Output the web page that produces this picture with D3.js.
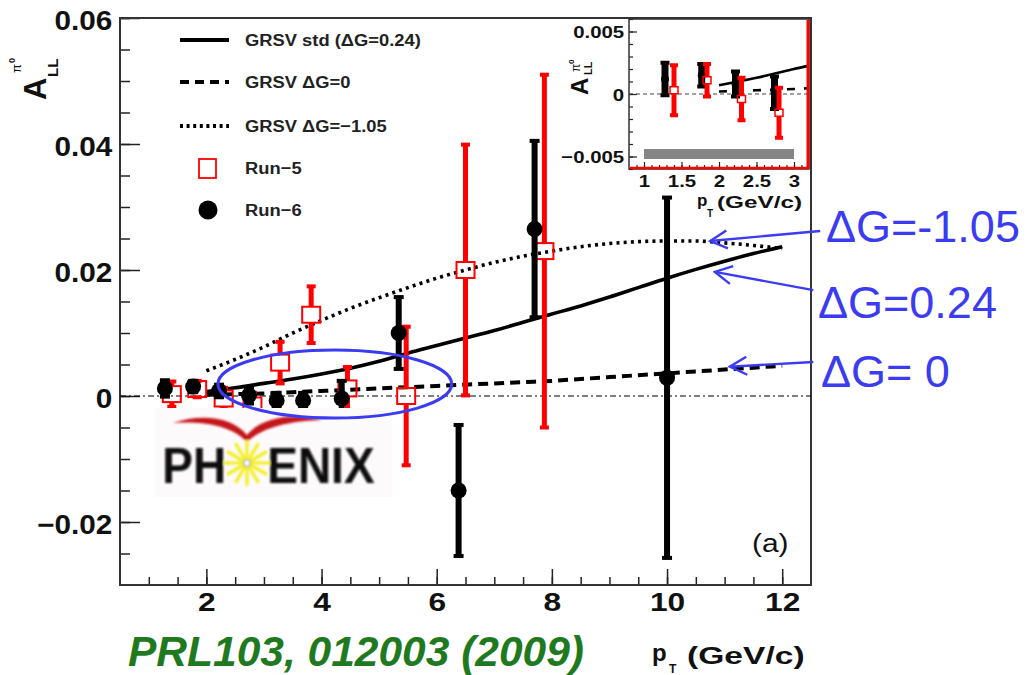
<!DOCTYPE html>
<html>
<head>
<meta charset="utf-8">
<script src="https://cdn.jsdelivr.net/npm/d3@7"></script>
<style>
  body { margin: 0; background: #fff; }
  svg { display: block; }
</style>
</head>
<body>
<svg id="chart" width="1034" height="675"></svg>
<script>
// ---------------- data ----------------
// GRSV theory curves, A_LL vs pT
const curvePt   = [2, 2.5, 3, 3.5, 4, 4.5, 5, 5.5, 6, 6.5, 7, 7.5, 8, 8.5, 9, 9.5, 10, 10.5, 11, 11.5, 12];
const grsvStd   = [0.0007, 0.0013, 0.0020, 0.0027, 0.0035, 0.0044, 0.0055, 0.0068, 0.0080, 0.0092, 0.0104, 0.0117, 0.0130, 0.0143, 0.0157, 0.0172, 0.0187, 0.0201, 0.0214, 0.0226, 0.0237];
const grsvZero  = [0.0002, 0.0003, 0.0004, 0.0006, 0.0008, 0.0010, 0.0012, 0.0014, 0.0016, 0.0018, 0.0020, 0.0022, 0.0024, 0.0027, 0.0030, 0.0033, 0.0036, 0.0039, 0.0042, 0.0045, 0.0048];
const grsvNeg   = [0.0040, 0.0058, 0.0078, 0.0100, 0.0120, 0.0139, 0.0156, 0.0172, 0.0187, 0.0200, 0.0212, 0.0222, 0.0230, 0.0237, 0.0242, 0.0245, 0.0246, 0.0246, 0.0243, 0.0239, 0.0234];

// Run-5 measurement
const run5Pt   = [1.40, 1.84, 2.30, 2.80, 3.28, 3.82, 4.45, 5.47, 6.50, 7.87];
const run5Asym = [0.0003, 0.0011, -0.0004, -0.0015, 0.0053, 0.0129, 0.0012, 0.0000, 0.0200, 0.0230];
const run5Err  = [0.0020, 0.0013, 0.0017, 0.0020, 0.0033, 0.0045, 0.0034, 0.0110, 0.0199, 0.0280];

// Run-6 measurement
const run6Pt   = [1.28, 1.77, 2.22, 2.74, 3.22, 3.68, 4.35, 5.34, 6.38, 7.70, 10.0];
const run6Asym = [0.0012, 0.0015, 0.0008, 0.0001, -0.0007, -0.0007, -0.0004, 0.0100, -0.0150, 0.0265, 0.0029];
const run6Err  = [0.0013, 0.0009, 0.0010, 0.0013, 0.0012, 0.0012, 0.0028, 0.0057, 0.0104, 0.0140, 0.0286];

// systematic band shown in the low-pT panel
const sysBandPt   = [1.0, 3.0];
const sysBandAsym = [-0.0052, -0.0044];

// axis ticks
const mainXTicks  = [2, 4, 6, 8, 10, 12];
const mainYTicks  = [-0.02, 0, 0.02, 0.04, 0.06];
const insetXTicks = [1, 1.5, 2, 2.5, 3];
const insetYTicks = [-0.005, 0, 0.005];

// legend and annotation text
const legendLabels = ["GRSV std (\u0394G=0.24)", "GRSV \u0394G=0", "GRSV \u0394G=\u22121.05", "Run\u22125", "Run\u22126"];
const noteLabels   = ["\u0394G=-1.05", "\u0394G=0.24", "\u0394G= 0"];
const noteTips     = [[10.75, 0.0246], [10.83, 0.0197], [11.09, 0.00465]];
const noteTails    = [[12.66, 0.0262], [12.54, 0.0168], [12.54, 0.0054]];

// ---------------- drawing ----------------
const FONT = "'Liberation Sans', Arial, Helvetica, sans-serif";
const svg = d3.select("#chart");
svg.append("rect").attr("width", 1034).attr("height", 675).attr("fill", "#fff");

const x = d3.scaleLinear().domain([0.5, 12.5]).range([120, 811]);
const y = d3.scaleLinear().domain([-0.03, 0.06]).range([585, 18]);

const main = svg.append("g");

function styleTicks(g, width) {
  g.select(".domain").remove();
  g.selectAll(".tick line").attr("stroke", "#222").attr("stroke-width", width);
}

// x axis: minor then major ticks
main.append("g").attr("transform", "translate(0,585)")
  .call(d3.axisBottom(x).tickValues(d3.range(1, 12.4, 0.5)).tickSize(-8).tickFormat(""))
  .call(g => styleTicks(g, 1.5));
main.append("g").attr("transform", "translate(0,585)")
  .call(d3.axisBottom(x).tickValues(mainXTicks).tickSize(-16).tickPadding(8).tickFormat(d3.format("d")))
  .call(g => {
    styleTicks(g, 1.5);
    g.selectAll("text").attr("font-family", FONT).attr("font-size", 26).attr("font-weight", "bold")
      .attr("fill", "#111").attr("transform", "scale(1.22,1)");
  });

// y axis: minor then major ticks
main.append("g").attr("transform", "translate(120,0)")
  .call(d3.axisLeft(y).tickValues(d3.range(-0.025, 0.0601, 0.005)).tickSize(-10).tickFormat(""))
  .call(g => styleTicks(g, 1.5));
main.append("g").attr("transform", "translate(120,0)")
  .call(d3.axisLeft(y).tickValues(mainYTicks).tickSize(-20).tickPadding(7)
    .tickFormat(d => d === 0 ? "0" : d3.format(".2f")(d)))
  .call(g => {
    styleTicks(g, 1.5);
    g.selectAll("text").attr("font-family", FONT).attr("font-size", 27).attr("font-weight", "bold")
      .attr("fill", "#111").attr("dy", "0.42em").attr("transform", "scale(1.1,1)");
  });

// frame
main.append("rect").attr("x", x(0.5)).attr("y", y(0.06))
  .attr("width", x(12.5) - x(0.5)).attr("height", y(-0.03) - y(0.06))
  .attr("fill", "none").attr("stroke", "#333").attr("stroke-width", 2);

// zero reference line
main.append("line").attr("x1", x(0.5)).attr("x2", x(12.5)).attr("y1", y(0)).attr("y2", y(0))
  .attr("stroke", "#000").attr("stroke-width", 1.2).attr("stroke-dasharray", "6 3 2 3");

// ---- PHENIX logo ----
const logo = svg.append("g").attr("transform", "translate(155,408)");
const blur = svg.append("defs").append("filter").attr("id", "soft");
blur.append("feGaussianBlur").attr("stdDeviation", 0.8);
logo.append("rect").attr("width", 237).attr("height", 89).attr("fill", "#fdfafb");
const lg = logo.append("g").attr("filter", "url(#soft)");
lg.append("path")
  .attr("d", "M18,15 C45,6 76,8 92,27 C108,8 140,5 167,12 C140,13 110,17 92,34 C76,17 46,13 18,15 Z")
  .attr("fill", "#c4141a");
lg.append("text").attr("x", 8).attr("y", 75).attr("font-family", FONT).attr("font-weight", "bold")
  .attr("font-size", 50).attr("fill", "#0a0a0a").attr("transform", "scale(0.92,1)").text("PH");
lg.append("text").attr("x", 122).attr("y", 75).attr("font-family", FONT).attr("font-weight", "bold")
  .attr("font-size", 50).attr("fill", "#0a0a0a").attr("transform", "scale(0.92,1)").text("ENIX");
const star = lg.append("g").attr("transform", "translate(92,55)");
d3.range(12).forEach(i => {
  const a = i * Math.PI / 6;
  star.append("line").attr("x1", 4 * Math.cos(a)).attr("y1", 4 * Math.sin(a))
    .attr("x2", 23 * Math.cos(a)).attr("y2", 23 * Math.sin(a))
    .attr("stroke", "#f3ef22").attr("stroke-width", 3.2);
});
star.append("circle").attr("r", 3.5).attr("fill", "none").attr("stroke", "#999").attr("stroke-width", 1.2);

// ---- theory curves ----
const line = d3.line().x(d => x(d[0])).y(d => y(d[1])).curve(d3.curveMonotoneX);
const curveStyles = [
  { vals: grsvStd,  dash: null,    w: 3.6 },
  { vals: grsvZero, dash: "10 6",  w: 4 },
  { vals: grsvNeg,  dash: "3 4.2", w: 3.6 }
];
curveStyles.forEach(c => {
  main.append("path").datum(curvePt.map((p, i) => [p, c.vals[i]]))
    .attr("d", line).attr("fill", "none").attr("stroke", "#000")
    .attr("stroke-width", c.w).attr("stroke-dasharray", c.dash);
});

// ---- data points ----
function drawRun5(g, xs, ys, pts, vals, errs, o) {
  pts.forEach((p, i) => {
    const px = xs(p), py = ys(vals[i]);
    const top = ys(vals[i] + errs[i]), bot = ys(vals[i] - errs[i]);
    const hh = o.sq / 2;
    if (py - hh > top) g.append("line").attr("x1", px).attr("x2", px).attr("y1", top).attr("y2", py - hh)
      .attr("stroke", "#ff0000").attr("stroke-width", o.bw);
    if (bot > py + hh) g.append("line").attr("x1", px).attr("x2", px).attr("y1", py + hh).attr("y2", bot)
      .attr("stroke", "#ff0000").attr("stroke-width", o.bw);
    [top, bot].forEach(cy => g.append("rect").attr("x", px - o.cap / 2).attr("y", cy - 2)
      .attr("width", o.cap).attr("height", 4).attr("fill", "#ff0000"));
    g.append("rect").attr("x", px - o.sqw / 2).attr("y", py - hh).attr("width", o.sqw).attr("height", o.sq)
      .attr("fill", "none").attr("stroke", "#ff0000").attr("stroke-width", o.sw);
  });
}
function drawRun6(g, xs, ys, pts, vals, errs, o) {
  pts.forEach((p, i) => {
    const px = xs(p), py = ys(vals[i]);
    const top = ys(vals[i] + errs[i]), bot = ys(vals[i] - errs[i]);
    g.append("line").attr("x1", px).attr("x2", px).attr("y1", top).attr("y2", bot)
      .attr("stroke", "#000").attr("stroke-width", o.bw);
    [top, bot].forEach(cy => g.append("rect").attr("x", px - o.cap / 2).attr("y", cy - 2)
      .attr("width", o.cap).attr("height", 4).attr("fill", "#000"));
    g.append("circle").attr("cx", px).attr("cy", py).attr("r", o.r).attr("fill", "#000");
  });
}
drawRun5(main, x, y, run5Pt, run5Asym, run5Err, { bw: 5, cap: 9, sq: 16, sqw: 18, sw: 2 });
drawRun6(main, x, y, run6Pt, run6Asym, run6Err, { bw: 6, cap: 10, r: 8 });

// panel label
main.append("text").attr("font-family", FONT).attr("font-size", 26).attr("fill", "#111")
  .attr("transform", "translate(752,552) scale(1.15,1)").text("(a)");

// ---- legend ----
const legY = [40, 82, 126, 168, 210];
const legDash = [null, "9 6", "3 3.6"];
legDash.forEach((d, i) => {
  main.append("line").attr("x1", 180).attr("x2", 229).attr("y1", legY[i]).attr("y2", legY[i])
    .attr("stroke", "#000").attr("stroke-width", 4).attr("stroke-dasharray", d);
});
main.append("rect").attr("x", 199).attr("y", legY[3] - 9).attr("width", 17).attr("height", 19)
  .attr("fill", "none").attr("stroke", "#ff0000").attr("stroke-width", 1.8);
main.append("circle").attr("cx", 208).attr("cy", legY[4]).attr("r", 9.5).attr("fill", "#000");
legendLabels.forEach((t, i) => {
  main.append("text").attr("font-family", FONT).attr("font-size", 17).attr("font-weight", "bold")
    .attr("fill", "#222").attr("transform", `translate(245,${legY[i] + 6}) scale(1.08,1)`).text(t);
});

// ---- axis titles ----
const yTitle = svg.append("g").attr("transform", "translate(46,100) rotate(-90)")
  .attr("font-family", FONT).attr("font-weight", "bold").attr("fill", "#111");
yTitle.append("text").attr("font-size", 31).text("A");
yTitle.append("text").attr("x", 23).attr("y", 12).attr("font-size", 15).text("LL");
yTitle.append("text").attr("x", 27).attr("y", -25).attr("font-size", 13).attr("font-weight", "normal").text("\u03c0");
yTitle.append("text").attr("x", 37).attr("y", -31).attr("font-size", 9).text("0");

const xTitle = svg.append("g").attr("font-family", FONT).attr("font-weight", "bold").attr("fill", "#111");
xTitle.append("text").attr("x", 652).attr("y", 661).attr("font-size", 24).text("p");
xTitle.append("text").attr("x", 669).attr("y", 673).attr("font-size", 12).text("T");
xTitle.append("text").attr("font-size", 24).attr("transform", "translate(687,664) scale(1.4,1)").text("(GeV/c)");

// reference
svg.append("text").attr("x", 128).attr("y", 666).attr("font-family", FONT).attr("font-size", 42.5)
  .attr("font-weight", "bold").attr("font-style", "italic").attr("fill", "#1f7a1f")
  .text("PRL103, 012003 (2009)");

// ---- low-pT inset ----
const xi = d3.scaleLinear().domain([0.8, 3.2]).range([629, 809]);
const yi = d3.scaleLinear().domain([-0.006, 0.006]).range([169, 19]);
const inset = svg.append("g");
inset.append("rect").attr("x", 629).attr("y", 19).attr("width", 180).attr("height", 150).attr("fill", "#fff");
svg.select("defs").append("clipPath").attr("id", "insetClip")
  .append("rect").attr("x", 629).attr("y", 19).attr("width", 180).attr("height", 150);
const insetBody = inset.append("g").attr("clip-path", "url(#insetClip)");

insetBody.append("rect").attr("x", xi(sysBandPt[0])).attr("y", yi(sysBandAsym[1]))
  .attr("width", xi(sysBandPt[1]) - xi(sysBandPt[0])).attr("height", yi(sysBandAsym[0]) - yi(sysBandAsym[1]))
  .attr("fill", "#858585");
insetBody.append("line").attr("x1", 629).attr("x2", 809).attr("y1", yi(0)).attr("y2", yi(0))
  .attr("stroke", "#444").attr("stroke-width", 1).attr("stroke-dasharray", "4 3");

const lineI = d3.line().x(d => xi(d[0])).y(d => yi(d[1])).curve(d3.curveMonotoneX);
[[grsvStd, null], [grsvZero, "8 9"]].forEach(([vals, dash]) => {
  insetBody.append("path").datum(curvePt.map((p, i) => [p, vals[i]]))
    .attr("d", lineI).attr("fill", "none").attr("stroke", "#000").attr("stroke-width", 2.6)
    .attr("stroke-dasharray", dash);
});
const lowSel = (pts) => pts.map((p, i) => i).filter(i => pts[i] < 3.2);
const i5 = lowSel(run5Pt), i6 = lowSel(run6Pt);
drawRun6(insetBody, xi, yi, i6.map(i => run6Pt[i]), i6.map(i => run6Asym[i]), i6.map(i => run6Err[i]), { bw: 7, cap: 9, r: 4 });
drawRun5(insetBody, xi, yi, i5.map(i => run5Pt[i]), i5.map(i => run5Asym[i]), i5.map(i => run5Err[i]), { bw: 5, cap: 8, sq: 7, sqw: 8, sw: 1.5 });

// inset axes
inset.append("g").attr("transform", "translate(0,169)")
  .call(d3.axisBottom(xi).tickValues(d3.range(0.9, 3.15, 0.1)).tickSize(-4).tickFormat(""))
  .call(g => styleTicks(g, 1.2));
inset.append("g").attr("transform", "translate(0,169)")
  .call(d3.axisBottom(xi).tickValues(insetXTicks).tickSize(-7).tickPadding(6).tickFormat(d3.format("")))
  .call(g => {
    styleTicks(g, 1.2);
    g.selectAll("text").attr("font-family", FONT).attr("font-size", 17).attr("font-weight", "bold")
      .attr("fill", "#111").attr("transform", "scale(1.2,1)");
  });
inset.append("g").attr("transform", "translate(629,0)")
  .call(d3.axisLeft(yi).tickValues(d3.range(-0.006, 0.0061, 0.001)).tickSize(-4).tickFormat(""))
  .call(g => styleTicks(g, 1.2));
inset.append("g").attr("transform", "translate(629,0)")
  .call(d3.axisLeft(yi).tickValues(insetYTicks).tickSize(-8).tickPadding(4)
    .tickFormat(d => d === 0 ? "0" : d3.format(".3f")(d)))
  .call(g => {
    styleTicks(g, 1.2);
    g.selectAll("text").attr("font-family", FONT).attr("font-size", 17).attr("font-weight", "bold")
      .attr("fill", "#111").attr("dy", "0.36em").attr("transform", "scale(1.2,1)");
  });
inset.append("rect").attr("x", 629).attr("y", 19).attr("width", 180).attr("height", 150)
  .attr("fill", "none").attr("stroke", "#333").attr("stroke-width", 1.5);
inset.append("line").attr("x1", 808).attr("x2", 808).attr("y1", 20).attr("y2", 169)
  .attr("stroke", "#ff0000").attr("stroke-width", 3);
inset.append("line").attr("x1", 630).attr("x2", 809).attr("y1", 168).attr("y2", 168)
  .attr("stroke", "#ff0000").attr("stroke-width", 2.5);

const yiTitle = inset.append("g").attr("transform", "translate(588,95) rotate(-90)")
  .attr("font-family", FONT).attr("font-weight", "bold").attr("fill", "#111");
yiTitle.append("text").attr("font-size", 24).text("A");
yiTitle.append("text").attr("x", 20).attr("y", 4).attr("font-size", 11).text("LL");
yiTitle.append("text").attr("x", 23).attr("y", -8).attr("font-size", 12).attr("font-weight", "normal").text("\u03c0");
yiTitle.append("text").attr("x", 31).attr("y", -14).attr("font-size", 8).text("0");

const xiTitle = inset.append("g").attr("font-family", FONT).attr("font-weight", "bold").attr("fill", "#111");
xiTitle.append("text").attr("x", 697).attr("y", 206).attr("font-size", 17).text("p");
xiTitle.append("text").attr("x", 707).attr("y", 217).attr("font-size", 10).text("T");
xiTitle.append("text").attr("font-size", 17).attr("transform", "translate(717,208) scale(1.43,1)").text("(GeV/c)");

// ---- highlighted low-pT region and curve annotations ----
const BLUE = "#3b3bf2";
const ell = { pt: 4.23, a: 0.0019, dpt: 2.03, da: 0.0054 };
svg.append("ellipse").attr("cx", x(ell.pt)).attr("cy", y(ell.a))
  .attr("rx", x(ell.pt + ell.dpt) - x(ell.pt)).attr("ry", y(ell.a - ell.da) - y(ell.a))
  .attr("fill", "none").attr("stroke", BLUE).attr("stroke-width", 3);

svg.select("defs").append("marker").attr("id", "openHead")
  .attr("markerUnits", "userSpaceOnUse").attr("viewBox", "-20 -11 22 22")
  .attr("refX", 0).attr("refY", 0).attr("markerWidth", 22).attr("markerHeight", 22).attr("orient", "auto")
  .append("path").attr("d", "M-17,-9 L0,0 L-17,9").attr("fill", "none").attr("stroke", BLUE)
  .attr("stroke-width", 2.4);
noteTips.forEach((tip, i) => {
  svg.append("line").attr("x1", x(noteTails[i][0])).attr("y1", y(noteTails[i][1]))
    .attr("x2", x(tip[0])).attr("y2", y(tip[1]))
    .attr("stroke", BLUE).attr("stroke-width", 2.4).attr("marker-end", "url(#openHead)");
});
const noteX = [826, 818, 821], noteY = [242, 318, 387];
noteLabels.forEach((t, i) => {
  svg.append("text").attr("x", noteX[i]).attr("y", noteY[i]).attr("font-family", FONT)
    .attr("font-size", 45).attr("fill", BLUE).text(t);
});
</script>
</body>
</html>
